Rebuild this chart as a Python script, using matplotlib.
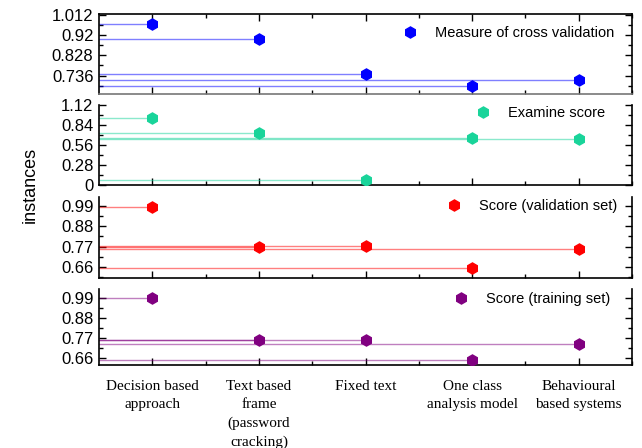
import matplotlib
matplotlib.use("Agg")
import matplotlib.pyplot as plt
from matplotlib.ticker import MultipleLocator, FixedLocator
import numpy as np

categories = ["Decision based\napproach", "Text based\nframe\n(password\ncracking)", "Fixed text",
              "One class\nanalysis model", "Behavioural\nbased systems"]

cross_validation = [0.971, 0.903, 0.745, 0.689, 0.715]
examine_score = [0.94, 0.734, 0.075, 0.658, 0.64]
score_validation = [0.985, 0.767, 0.775, 0.653, 0.756]
score_training = [0.993, 0.757, 0.757, 0.646, 0.737]

series_names = ["Measure of cross validation", "Examine score",
                "Score (validation set)", "Score (training set)"]
series_values = [cross_validation, examine_score, score_validation, score_training]
colors = ["#0000ff", "#19d49a", "#ff0000", "#800080"]

yticks = [
    [0.736, 0.828, 0.92, 1.012],
    [0, 0.28, 0.56, 0.84, 1.12],
    [0.66, 0.77, 0.88, 0.99],
    [0.66, 0.77, 0.88, 0.99],
]
ytick_labels = [
    ["0.736", "0.828", "0.92", "1.012"],
    ["0", "0.28", "0.56", "0.84", "1.12"],
    ["0.66", "0.77", "0.88", "0.99"],
    ["0.66", "0.77", "0.88", "0.99"],
]
ylims = [(0.652, 1.016), (0, 1.12), (0.601, 1.038), (0.62, 1.042)]
# panel pixel extents (top, bottom)
panels_px = [(14, 94), (105, 185), (197, 278), (289, 365)]
legend_anchor = [(0.966, 0.76), (0.949, 0.9), (0.972, 0.889), (0.959, 0.868)]

W, H = 642, 448
fig = plt.figure(figsize=(W / 100, H / 100), dpi=100)
x = np.arange(1, len(categories) + 1)
left_px, right_px = 99, 632

for i in range(4):
    top, bot = panels_px[i]
    ax = fig.add_axes([left_px / W, 1 - bot / H, (right_px - left_px) / W, (bot - top) / H])
    vals = series_values[i]
    c = colors[i]
    for xi, v in zip(x, vals):
        ax.plot([0.5, xi], [v, v], color=c, lw=1.0, alpha=0.5, zorder=2)
    ax.plot(x, vals, linestyle="none", marker="h", markersize=8, color=c,
            label=series_names[i], zorder=3)
    ax.set_xlim(0.5, 5.5)
    ax.set_ylim(*ylims[i])
    ax.xaxis.set_major_locator(FixedLocator(x))
    ax.xaxis.set_minor_locator(FixedLocator(x + 0.5))
    ax.set_yticks(yticks[i])
    ax.set_yticklabels(ytick_labels[i])
    step = yticks[i][1] - yticks[i][0]
    ax.yaxis.set_minor_locator(MultipleLocator(step / 2))
    ax.tick_params(axis="both", which="major", direction="in", length=5, width=1,
                   right=True, top=(i == 0), labelsize=12)
    ax.tick_params(axis="both", which="minor", direction="in", length=3, width=1,
                   right=True, top=(i == 0))
    ax.tick_params(axis="y", pad=4)
    for lab in ax.get_yticklabels():
        lab.set_fontfamily("Liberation Sans")
    if i < 3:
        ax.tick_params(axis="x", labelbottom=False)
    else:
        ax.set_xticklabels(categories, fontfamily="Liberation Serif", fontsize=11,
                           va="top", linespacing=1.5)
        ax.tick_params(axis="x", pad=11)
    if i > 0:
        ax.spines["top"].set_visible(False)
    for s in ax.spines.values():
        s.set_linewidth(1.2)
    if i == 0:
        ax.spines["bottom"].set_color("#777777")
    ax.legend(loc="center right", bbox_to_anchor=legend_anchor[i], frameon=False,
              prop={"family": "Liberation Sans", "size": 10.5},
              handletextpad=0.7, borderaxespad=0, borderpad=0, markerscale=1.0)

fig.text(30 / W, 1 - 185 / H, "instances", rotation=90, va="center", ha="center",
         fontsize=13, fontfamily="Liberation Sans")

fig.savefig("out.png", dpi=100)
